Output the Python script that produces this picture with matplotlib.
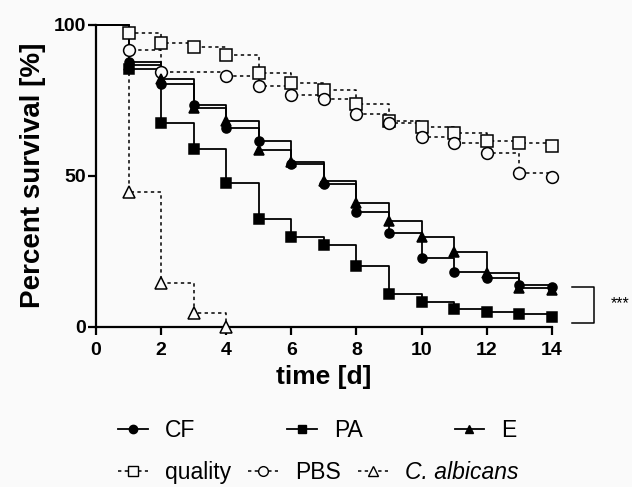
import matplotlib
matplotlib.use('Agg')
import matplotlib.pyplot as plt
from matplotlib.lines import Line2D

plt.rcParams['font.family'] = ['Liberation Sans', 'DejaVu Sans']

# survival data (day, percent)
days = [1, 2, 3, 4, 5, 6, 7, 8, 9, 10, 11, 12, 13, 14]
cf = [87.8, 80.4, 73.3, 65.8, 61.6, 53.9, 47.3, 37.9, 31.2, 22.7, 18.2, 16.0, 14.0, 13.2]
pa = [85.3, 67.4, 58.8, 47.7, 35.7, 29.6, 27.1, 20.2, 10.8, 8.3, 5.8, 4.8, 4.1, 3.1]
e = [86.8, 82.0, 72.4, 68.3, 58.6, 54.7, 48.3, 41.1, 35.1, 29.8, 24.6, 17.7, 12.7, 12.2]
quality = [97.2, 93.9, 92.6, 90.0, 84.0, 80.7, 78.5, 73.7, 68.2, 66.1, 64.3, 61.6, 60.8, 59.9]
pbs_days = [1, 2, 4, 5, 6, 7, 8, 9, 10, 11, 12, 13, 14]
pbs = [91.7, 84.5, 82.9, 79.8, 76.8, 75.4, 70.5, 67.4, 62.8, 61.0, 57.7, 51.0, 49.7]
ca_days = [1, 2, 3, 4]
calb = [44.7, 14.6, 4.4, 0.0]

bg = '#fafafa'
fig = plt.figure(figsize=(6.32, 4.87), dpi=100, facecolor=bg)
ax = fig.add_axes([0.152, 0.329, 0.721, 0.620], facecolor=bg)

solid = dict(color='black', lw=1.3, ls='-')
dash = dict(color='black', lw=1.1, ls=(0, (2.2, 2.2)))

def km(x, y, marker, ms, filled, style):
    xs = [0] + list(x)
    ys = [100] + list(y)
    ax.plot(xs, ys, drawstyle='steps-post', clip_on=False, **style)
    fc = 'black' if filled else bg
    ax.plot(x, y, ls='none', marker=marker, ms=ms, mfc=fc, mec='black',
            mew=1.1, clip_on=False, zorder=3)

km(days, quality, 's', 8, False, dash)
km(pbs_days, pbs, 'o', 8.5, False, dash)
km(ca_days, calb, '^', 8.5, False, dash)
km(days, e, '^', 6.5, True, solid)
km(days, pa, 's', 6.5, True, solid)
km(days, cf, 'o', 6.5, True, solid)

ax.set_xlim(0, 14)
ax.set_ylim(0, 100)
ax.set_xticks(range(0, 15, 2))
ax.set_yticks([0, 50, 100])
for s in ['top', 'right']:
    ax.spines[s].set_visible(False)
for s in ['left', 'bottom']:
    ax.spines[s].set_linewidth(1.6)
ax.tick_params(width=1.6, length=6, labelsize=14)
ax.tick_params(axis='x', pad=5)
ax.tick_params(axis='y', pad=1.5)
for lab in ax.get_xticklabels() + ax.get_yticklabels():
    lab.set_fontweight('bold')
ax.set_xlabel('time [d]', fontsize=19, fontweight='bold', labelpad=4)
ax.set_ylabel('Percent survival [%]', fontsize=20, fontweight='bold', labelpad=5)

# significance bracket CF vs PA
ax.plot([14.61, 15.31, 15.31, 14.61], [13.1, 13.1, 1.1, 1.1], color='black',
        lw=1.1, clip_on=False)
ax.text(15.8, 7.5, '***', fontsize=11.5, ha='left', va='center')

# legend rows
h1 = [Line2D([], [], marker='o', ms=6, mfc='black', mec='black', **solid),
      Line2D([], [], marker='s', ms=6, mfc='black', mec='black', **solid),
      Line2D([], [], marker='^', ms=6, mfc='black', mec='black', **solid)]
h2 = [Line2D([], [], marker='s', ms=7, mfc=bg, mec='black', **dash),
      Line2D([], [], marker='o', ms=7, mfc=bg, mec='black', **dash),
      Line2D([], [], marker='^', ms=7, mfc=bg, mec='black', **dash)]
leg1 = fig.legend(h1, ['CF', 'PA', 'E'], ncol=3, loc='center left',
                  bbox_to_anchor=(0.187, 0.117), frameon=False, fontsize=16.5,
                  handlelength=1.3, handletextpad=0.75, columnspacing=4.0,
                  borderpad=0, borderaxespad=0)
leg2 = fig.legend(h2, ['quality', 'PBS', 'C. albicans'], ncol=3,
                  loc='center left', bbox_to_anchor=(0.187, 0.03),
                  frameon=False, fontsize=16.5, handlelength=1.3,
                  handletextpad=0.75, columnspacing=0.75, borderpad=0,
                  borderaxespad=0)
leg2.get_texts()[2].set_fontstyle('italic')

fig.savefig('out.png', dpi=100, facecolor=bg)
